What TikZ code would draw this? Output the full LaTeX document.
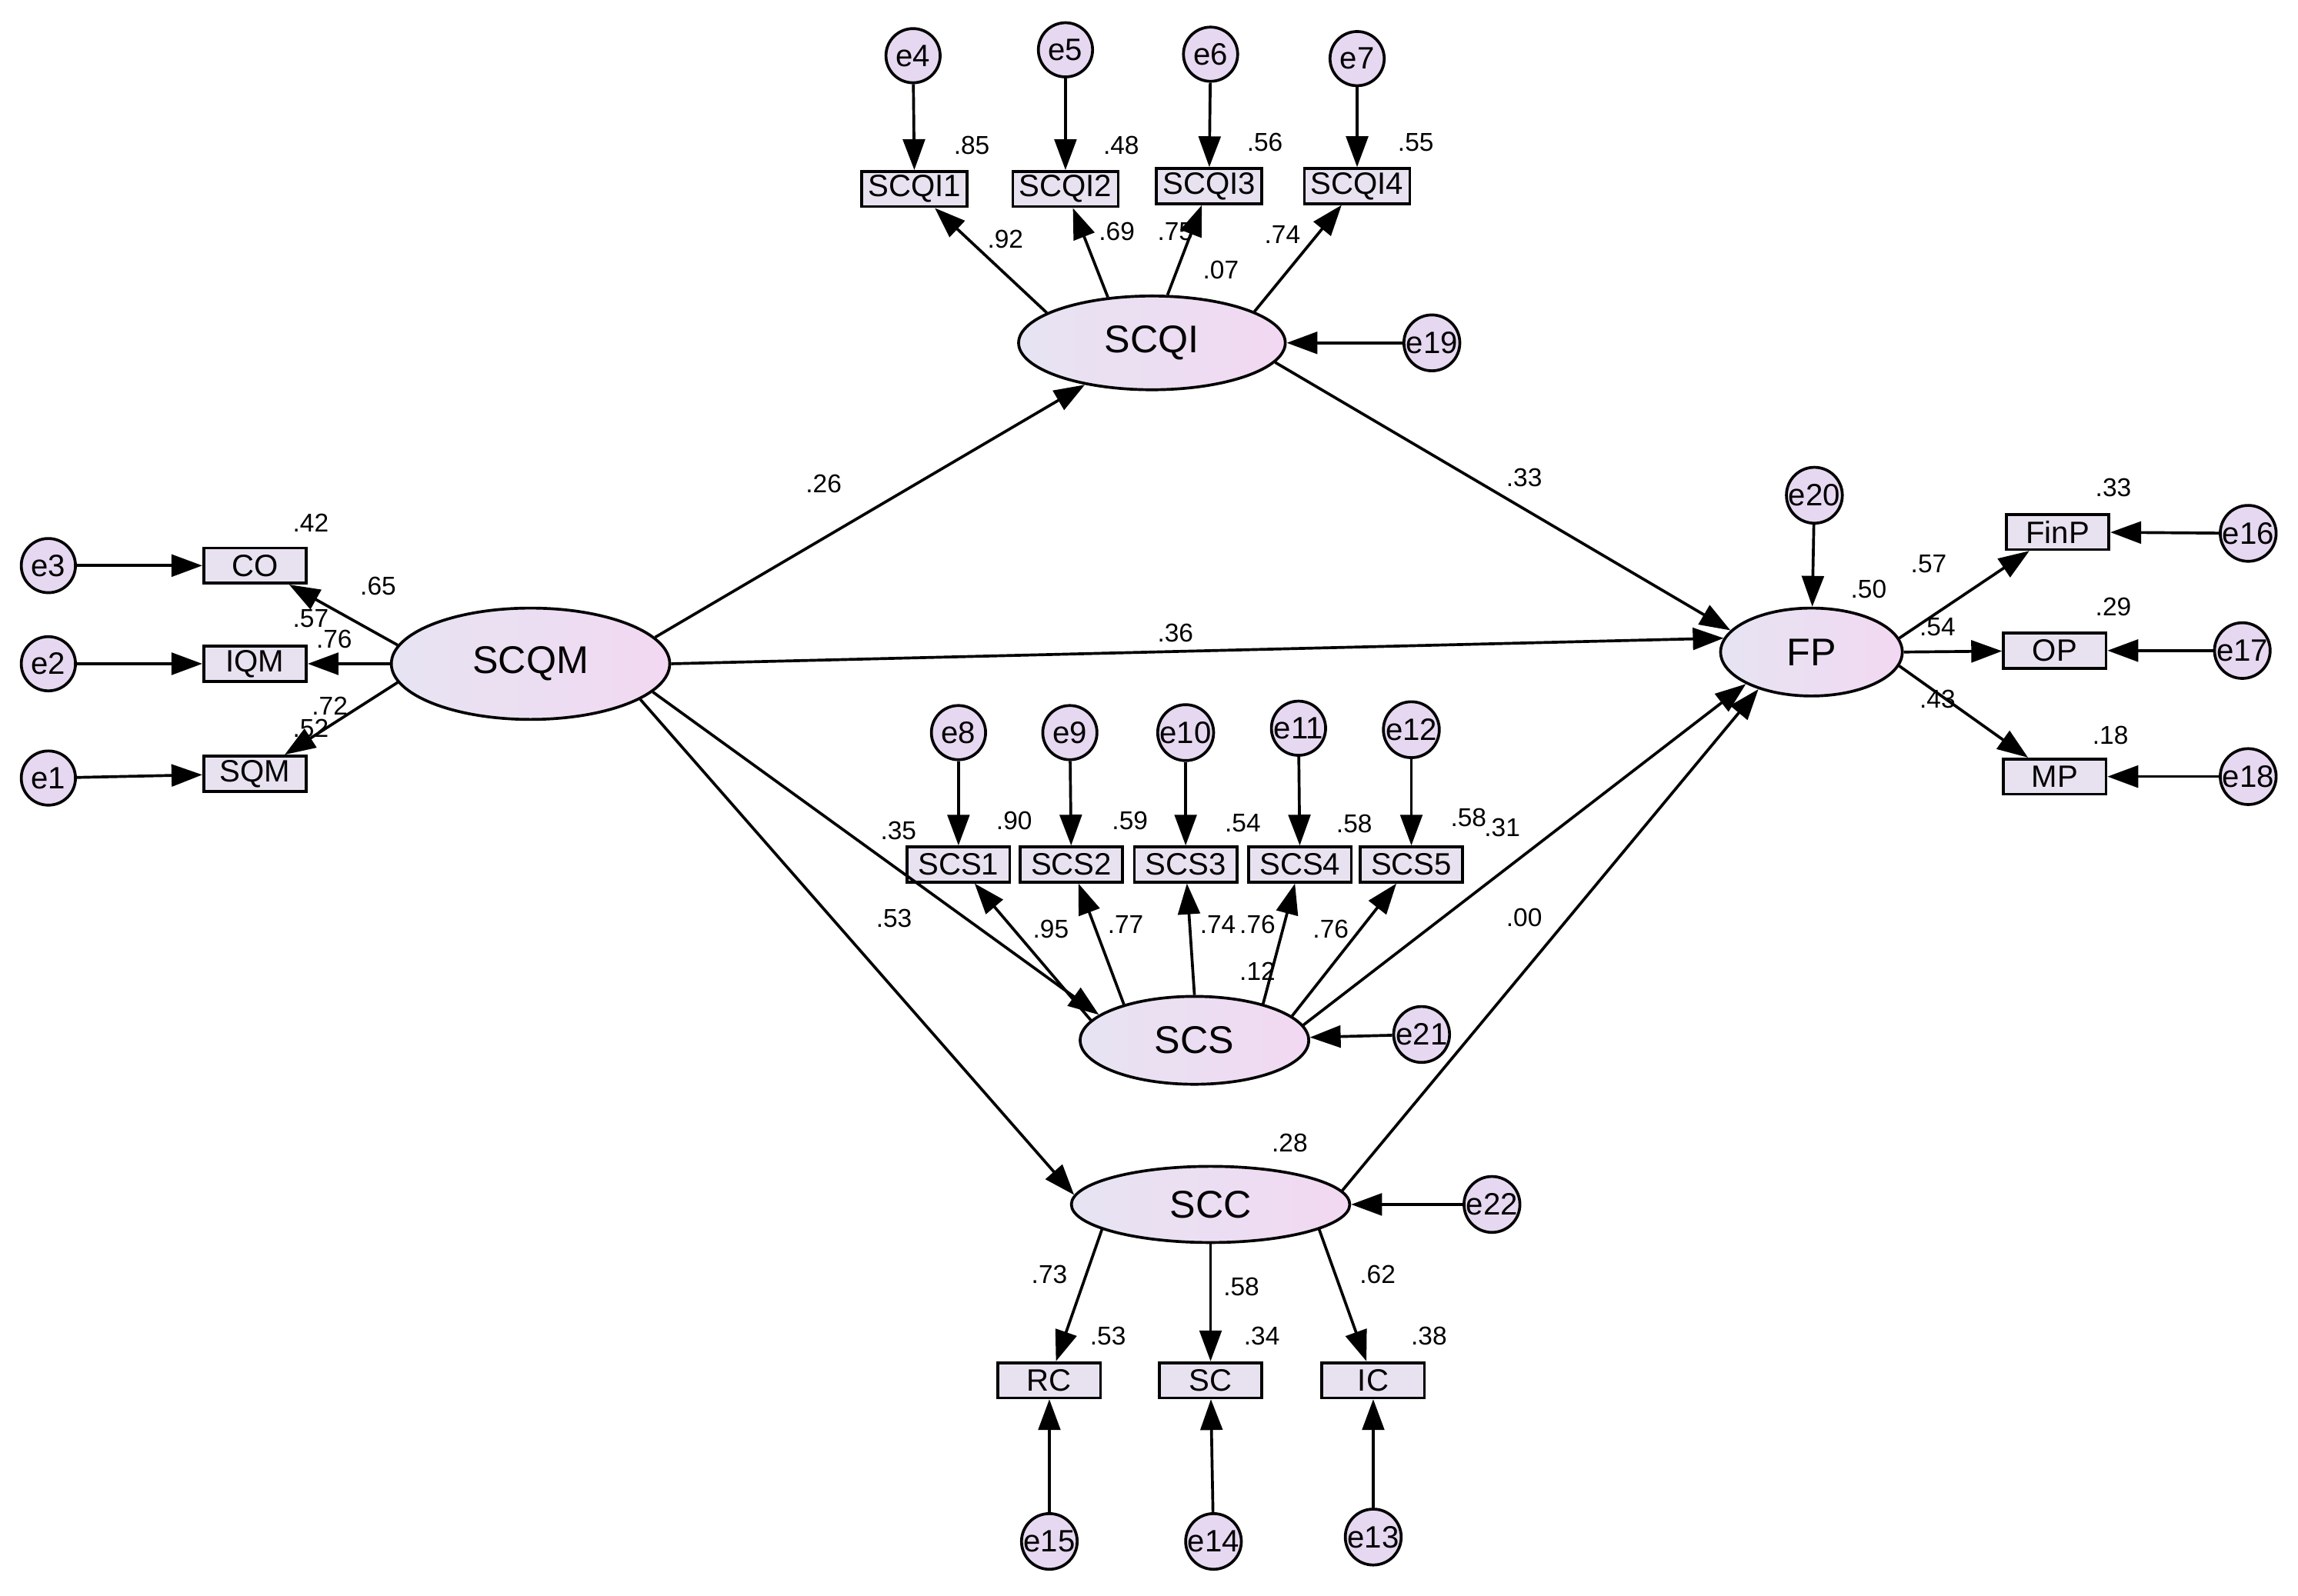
\documentclass[tikz,border=0pt]{standalone}
\usepackage{fontspec}
\setmainfont{Liberation Sans}
\usetikzlibrary{arrows.meta,shapes.geometric}
\definecolor{lv}{HTML}{E6E4F2}
\definecolor{rv}{HTML}{F2D8F2}
\definecolor{bx}{HTML}{E8E2F0}
\definecolor{ec}{HTML}{E6D8F0}
\begin{document}
\begin{tikzpicture}[x=0.02cm,y=-0.02cm,
 lat/.style={ellipse,draw,line width=1.1pt,left color=lv,right color=rv,inner sep=0pt,font=\fontsize{15}{15}\selectfont},
 obs/.style={rectangle,draw,line width=1.1pt,fill=bx,minimum width=1.4cm,minimum height=0.48cm,inner sep=0pt,font=\fontsize{12}{12}\selectfont},
 err/.style={circle,draw,line width=1.1pt,fill=ec,minimum size=0.74cm,inner sep=0pt,font=\fontsize{12}{12}\selectfont},
 ar/.style={-{Triangle[length=0.42cm,width=0.3cm]},line width=1.1pt},
 lb/.style={font=\fontsize{10}{10}\selectfont,inner sep=0pt}]
\useasboundingbox (0,0) rectangle (1568,1089);
% latents
\node[lat,minimum width=3.8cm,minimum height=1.52cm] (SCQM) at (362,453) {SCQM};
\node[lat,minimum width=3.64cm,minimum height=1.28cm] (SCQI) at (786,234) {SCQI};
\node[lat,minimum width=2.48cm,minimum height=1.2cm] (FP) at (1236,445) {FP};
\node[lat,minimum width=3.12cm,minimum height=1.2cm] (SCS) at (815,710) {SCS};
\node[lat,minimum width=3.8cm,minimum height=1.04cm] (SCC) at (826,822) {SCC};
% observed
\node[obs] (CO) at (174,386) {CO};
\node[obs] (IQM) at (174,453) {IQM};
\node[obs] (SQM) at (174,528) {SQM};
\node[obs,minimum width=1.44cm] (SCQI1) at (624,129) {SCQI1};
\node[obs,minimum width=1.44cm] (SCQI2) at (727,129) {SCQI2};
\node[obs,minimum width=1.44cm] (SCQI3) at (825,127) {SCQI3};
\node[obs,minimum width=1.44cm] (SCQI4) at (926,127) {SCQI4};
\node[obs] (SCS1) at (654,590) {SCS1};
\node[obs] (SCS2) at (731,590) {SCS2};
\node[obs] (SCS3) at (809,590) {SCS3};
\node[obs] (SCS4) at (887,590) {SCS4};
\node[obs] (SCS5) at (963,590) {SCS5};
\node[obs] (FinP) at (1404,363) {FinP};
\node[obs] (OP) at (1402,444) {OP};
\node[obs] (MP) at (1402,530) {MP};
\node[obs] (RC) at (716,942) {RC};
\node[obs] (SC) at (826,942) {SC};
\node[obs] (IC) at (937,942) {IC};
% errors
\node[err] (e3) at (33,386) {e3};
\node[err] (e2) at (33,453) {e2};
\node[err] (e1) at (33,531) {e1};
\node[err] (e4) at (623,38) {e4};
\node[err] (e5) at (727,34) {e5};
\node[err] (e6) at (826,37) {e6};
\node[err] (e7) at (926,40) {e7};
\node[err] (e19) at (977,234) {e19};
\node[err] (e8) at (654,500) {e8};
\node[err] (e9) at (730,500) {e9};
\node[err] (e10) at (809,500) {e10};
\node[err] (e11) at (886,497) {e11};
\node[err] (e12) at (963,498) {e12};
\node[err] (e21) at (970,706) {e21};
\node[err] (e20) at (1238,338) {e20};
\node[err] (e16) at (1534,364) {e16};
\node[err] (e17) at (1530,444) {e17};
\node[err] (e18) at (1534,530) {e18};
\node[err] (e22) at (1018,822) {e22};
\node[err] (e15) at (716,1052) {e15};
\node[err] (e14) at (828,1052) {e14};
\node[err] (e13) at (937,1049) {e13};
% error arrows
\foreach \a/\b in {e3/CO,e2/IQM,e1/SQM,e4/SCQI1,e5/SCQI2,e6/SCQI3,e7/SCQI4,e19/SCQI,
 e8/SCS1,e9/SCS2,e10/SCS3,e11/SCS4,e12/SCS5,e21/SCS,e20/FP,e16/FinP,e17/OP,e18/MP,e22/SCC,
 e15/RC,e14/SC,e13/IC}
 \draw[ar] (\a) -- (\b);
% loadings and paths with anchors
\foreach \a/\b in {SCQM.172/CO,SCQM.west/IQM,SCQM.188/SQM,
 SCQI.164/SCQI1,SCQI.134/SCQI2,SCQI.72/SCQI3,SCQI.17/SCQI4,
 SCS.169/SCS1,SCS.153/SCS2,SCS.north/SCS3,SCS.28/SCS4,SCS.14/SCS5,
 FP.9/FinP,FP.east/OP,FP.-9/MP,
 SCC.193/RC,SCC.south/SC,SCC.-13/IC,
 SCQM.12/SCQI.212,SCQM.east/FP.171,SCQM.-13/SCS.165,SCQM.-18/SCC.176,
 SCQI.-9/FP.165,SCS.8/FP.206,SCC.6/FP.215}
 \draw[ar] (\a) -- (\b);
% labels
\foreach \x/\y/\t in {212/357/.42,258/400/.65,212/422/.57,228/436/.76,225/482/.72,212/497/.52,
 663/99/.85,765/99/.48,863/97/.56,966/97/.55,686/163/.92,762/158/.69,802/158/.75,833/184/.07,875/160/.74,
 562/330/.26,1040/326/.33,802/432/.36,1275/402/.50,1316/385/.57,1322/428/.54,1322/477/.43,
 1442/333/.33,1442/414/.29,1440/502/.18,
 613/567/.35,692/560/.90,771/560/.59,848/562/.54,924/562/.58,1002/558/.58,1025/565/.31,
 717/634/.95,768/631/.77,831/631/.74,858/631/.76,908/634/.76,858/663/.12,
 610/627/.53,1040/626/.00,880/780/.28,
 716/870/.73,847/878/.58,940/870/.62,756/912/.53,861/912/.34,975/912/.38}
 \node[lb] at (\x,\y) {\t};
\end{tikzpicture}
\end{document}
